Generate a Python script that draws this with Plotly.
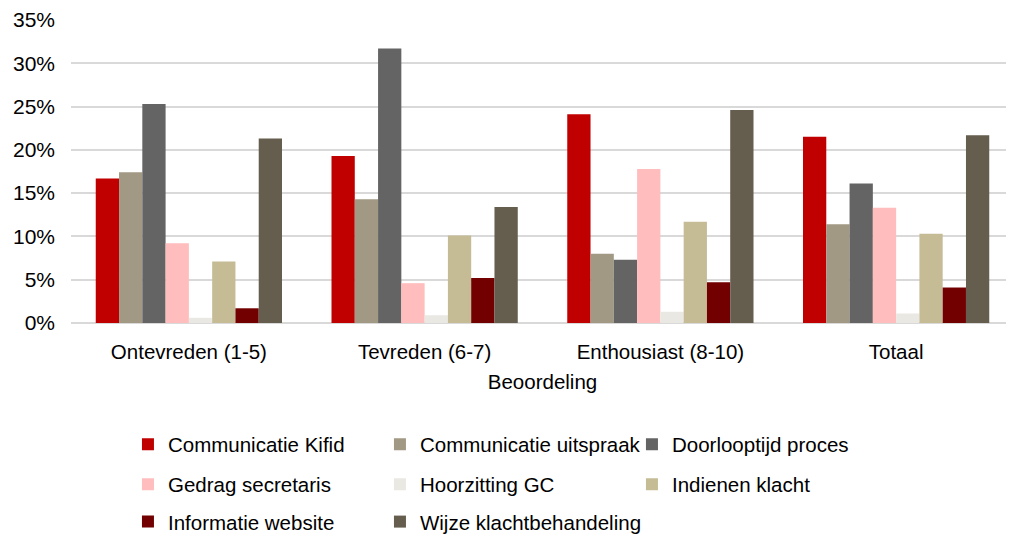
import plotly.graph_objects as go

categories = ["Ontevreden (1-5)", "Tevreden (6-7)", "Enthousiast (8-10)", "Totaal"]

communicatie_kifid = [0.167, 0.193, 0.241, 0.215]
communicatie_uitspraak = [0.174, 0.143, 0.080, 0.114]
doorlooptijd_proces = [0.253, 0.317, 0.073, 0.161]
gedrag_secretaris = [0.092, 0.046, 0.178, 0.133]
hoorzitting_gc = [0.006, 0.009, 0.013, 0.011]
indienen_klacht = [0.071, 0.101, 0.117, 0.103]
informatie_website = [0.017, 0.052, 0.047, 0.041]
wijze_klachtbehandeling = [0.213, 0.134, 0.246, 0.217]

y_ticks = [0, 0.05, 0.10, 0.15, 0.20, 0.25, 0.30, 0.35]

series = [
    ("Communicatie Kifid", communicatie_kifid, "#C00000", "legend"),
    ("Communicatie uitspraak", communicatie_uitspraak, "#A29985", "legend"),
    ("Doorlooptijd proces", doorlooptijd_proces, "#646464", "legend"),
    ("Gedrag secretaris", gedrag_secretaris, "#FFBDBD", "legend2"),
    ("Hoorzitting GC", hoorzitting_gc, "#EAE8E3", "legend2"),
    ("Indienen klacht", indienen_klacht, "#C5BC96", "legend2"),
    ("Informatie website", informatie_website, "#720000", "legend3"),
    ("Wijze klachtbehandeling", wijze_klachtbehandeling, "#655D4D", "legend3"),
]

font = dict(family="Liberation Sans, Arial, sans-serif", size=20.5, color="#000000")

fig = go.Figure()
for name, values, color, legend in series:
    fig.add_trace(
        go.Bar(
            x=categories,
            y=values,
            name=name,
            marker=dict(color=color, line=dict(width=0)),
            legend=legend,
        )
    )

# empty third slot in the last row, otherwise the legend box clips the long label
fig.add_trace(
    go.Scatter(
        x=[None],
        y=[None],
        mode="markers",
        name=" ",
        marker=dict(color="rgba(0,0,0,0)", size=1),
        legend="legend3",
        hoverinfo="skip",
    )
)

# one legend per row so the three-column grid stays fixed
legend_common = dict(
    orientation="h",
    entrywidth=207,
    entrywidthmode="pixels",
    x=0.0604,
    xanchor="left",
    yanchor="middle",
    font=font,
    bgcolor="rgba(0,0,0,0)",
    itemclick=False,
    traceorder="normal",
)

# page body has an 8px margin, so the figure is 8px smaller and margins shifted
fig.update_layout(
    barmode="group",
    bargap=0.21,
    bargroupgap=0,
    width=1006,
    height=530,
    margin=dict(l=63, r=0, t=12, b=215, autoexpand=False),
    plot_bgcolor="white",
    paper_bgcolor="white",
    font=font,
    showlegend=True,
    legend=dict(legend_common, y=-0.4005),
    legend2=dict(legend_common, y=-0.5325),
    legend3=dict(legend_common, y=-0.656),
    xaxis=dict(
        title=dict(text="Beoordeling", font=font, standoff=13),
        showgrid=False,
        showline=False,
        ticks="",
        ticklabelstandoff=14,
        tickfont=font,
    ),
    yaxis=dict(
        range=[0, 0.35],
        tickvals=y_ticks,
        tickformat=".0%",
        showgrid=True,
        gridcolor="#D9D9D9",
        gridwidth=1.5,
        zeroline=True,
        zerolinecolor="#D9D9D9",
        zerolinewidth=1.5,
        ticks="",
        ticklabelstandoff=15,
        tickfont=dict(font, size=21),
    ),
)

fig.write_html("out.html")
